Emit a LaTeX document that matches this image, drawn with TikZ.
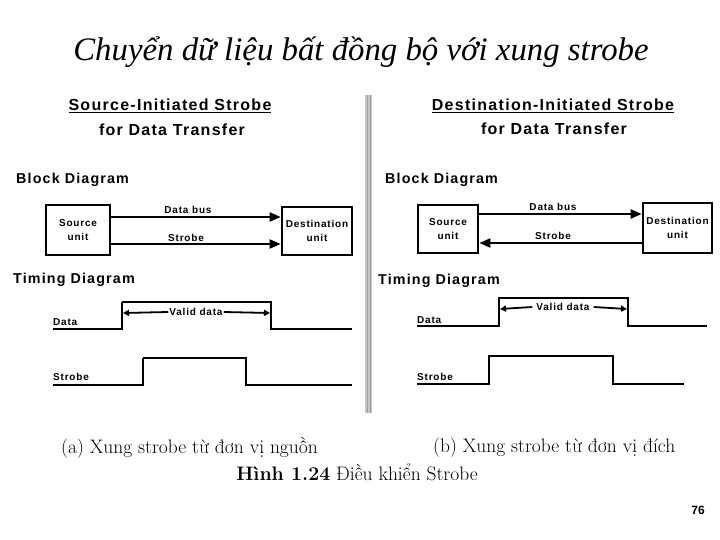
\documentclass[tikz,border=0pt]{standalone}
\usepackage{fontspec}
\usetikzlibrary{arrows.meta}
\newfontfamily\titlefont{Liberation Serif}
\newfontfamily\lsans[LetterSpace=8]{Liberation Sans}
\newfontfamily\plainsans{Liberation Sans}
\tikzset{
  big/.style={font=\lsans\bfseries\fontsize{16}{18}\selectfont, inner sep=0pt},
  head/.style={font=\lsans\bfseries\fontsize{14.3}{16}\selectfont, inner sep=0pt, anchor=west},
  small/.style={font=\lsans\bfseries\fontsize{10}{12}\selectfont, inner sep=0pt},
  unitbox/.style={draw, line width=2.6pt, align=center, font=\lsans\bfseries\fontsize{10}{14}\selectfont, inner sep=0pt},
  bus/.style={line width=2.2pt, -{Triangle[length=11pt,width=9pt]}},
  strb/.style={line width=1.8pt, -{Triangle[length=11pt,width=9pt]}},
  wave/.style={line width=1.5pt, line join=miter},
  thickw/.style={line width=2.4pt},
  valid/.style={line width=1.8pt, -{Triangle[length=6pt,width=6pt]}},
  captext/.style={font=\fontsize{19.5}{22}\selectfont, inner sep=0pt},
}
\begin{document}
\begin{tikzpicture}[x=1pt,y=-1pt]
\useasboundingbox (0,0) rectangle (720,540);
% title
\node[font=\titlefont\itshape\fontsize{32.8}{36}\selectfont, inner sep=0pt] (title) at (361,52) {Chuyển dữ liệu bất đồng bộ với xung strobe};
% divider
\fill[gray!45] (365,95) rectangle (372,413);
\fill[gray!75] (366.5,95) rectangle (367.3,413);
\fill[gray!75] (369.5,95) rectangle (370.3,413);

% ---------------- left panel
\node[big] (tA1) at (170,106) {\underline{Source-Initiated Strobe}};
\node[big] (tA2) at (172,130) {for Data Transfer};
\node[head] (bdA) at (16,180) {Block Diagram};
\node[unitbox, minimum width=64pt, minimum height=50pt] (srcA) at (78,230) {Source\\unit};
\node[unitbox, minimum width=70pt, minimum height=48pt] (dstA) at (317,231) {Destination\\unit};
\coordinate (dbA) at (0,217);
\coordinate (sbA) at (0,244);
\draw[bus] (srcA.east |- dbA) -- (dstA.west |- dbA);
\draw[strb] (srcA.east |- sbA) -- (dstA.west |- sbA);
\node[small] (lbA) at (188,210) {Data bus};
\node[small] (lsA) at (186,238) {Strobe};
\node[head] (tdA) at (13,280) {Timing Diagram};
\node[small, anchor=west] (ldA) at (53,322) {Data};
\node[small, anchor=west] (lstA) at (53,377) {Strobe};
\draw[thickw] (53,329) -- (122,329) -- (122,302);
\draw[wave] (122,302) -- (271,302) -- (271,329) -- (352,329);
\node[small, fill=white, inner sep=1pt] (vdA) at (196,312) {Valid data};
\draw[valid] (vdA.west) -- (123,313);
\draw[valid] (vdA.east) -- (270,313);
\draw[thickw] (53,385) -- (143,385) -- (143,358);
\draw[wave] (143,358) -- (246,358) -- (246,385) -- (352,385);

% ---------------- right panel
\node[big] (tB1) at (553,106) {\underline{Destination-Initiated Strobe}};
\node[big] (tB2) at (554,129) {for Data Transfer};
\node[head] (bdB) at (385,180) {Block Diagram};
\node[unitbox, minimum width=60pt, minimum height=48pt] (srcB) at (448,229) {Source\\unit};
\node[unitbox, minimum width=69pt, minimum height=50pt] (dstB) at (677.5,228) {Destination\\unit};
\coordinate (dbB) at (0,214);
\coordinate (sbB) at (0,243);
\draw[bus] (srcB.east |- dbB) -- (dstB.west |- dbB);
\draw[strb] (dstB.west |- sbB) -- (srcB.east |- sbB);
\node[small] (lbB) at (553,207) {Data bus};
\node[small] (lsB) at (553,236) {Strobe};
\node[head] (tdB) at (378,281) {Timing Diagram};
\node[small, anchor=west] (ldB) at (417,320) {Data};
\node[small, anchor=west] (lstB) at (417,377) {Strobe};
\draw[wave] (417,326) -- (499,326) -- (499,298) -- (628,298) -- (628,326) -- (707,326);
\node[small, fill=white, inner sep=4pt] (vdB) at (563,307) {Valid data};
\draw[valid] (vdB.west) -- (500,309);
\draw[valid] (vdB.east) -- (627,309);
\draw[wave] (417,384) -- (489,384) -- (489,356) -- (613,356) -- (613,384) -- (684,384);

% ---------------- captions
\node[captext, anchor=west] (capa) at (61,448) {(a) Xung strobe từ đơn vị nguồn};
\node[captext, anchor=west] (capb) at (433,448) {(b) Xung strobe từ đơn vị đích};
\node[captext] (capc) at (357,472) {\textbf{Hình 1.24} Điều khiển Strobe};
\node[font=\plainsans\bfseries\fontsize{12}{14}\selectfont, inner sep=0pt] (pg) at (698,510) {76};
\end{tikzpicture}
\end{document}
